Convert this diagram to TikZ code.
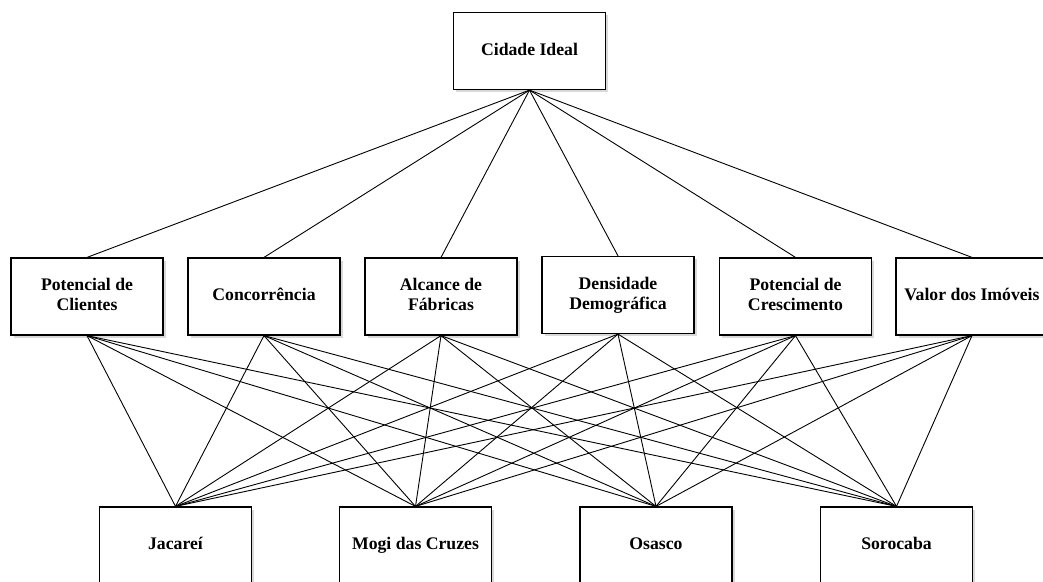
\documentclass[tikz,border=0pt]{standalone}
\usepackage{fontspec}
\setmainfont{Liberation Serif}
\usetikzlibrary{shadows}
\tikzset{
  box/.style={draw=black, line width=1.2pt, fill=white, minimum width=152pt, minimum height=77pt,
    align=center, inner sep=2pt, font=\bfseries\fontsize{17.7}{20}\selectfont,
    drop shadow={shadow xshift=2.5pt, shadow yshift=-2.5pt, opacity=0.25, fill=black!60}},
  link/.style={draw=black, line width=0.9pt}
}
\begin{document}
\begin{tikzpicture}[x=1pt, y=-1pt]
\useasboundingbox (0,0) rectangle (1043,581);
\clip (0,0) rectangle (1043,581);
\node[box] (top) at (529.5,51) {\strut Cidade Ideal};
\node[box] (m1) at (87,296.5) {\strut Potencial de\\\strut Clientes};
\node[box] (m2) at (264,296.5) {\strut Concorrência};
\node[box] (m3) at (441,296.5) {\strut Alcance de\\\strut Fábricas};
\node[box] (m4) at (618,295) {\strut Densidade\\\strut Demográfica};
\node[box] (m5) at (795.5,296.5) {\strut Potencial de\\\strut Crescimento};
\node[box] (m6) at (972,296.5) {\strut Valor dos Imóveis};
\node[box] (b1) at (175.5,545.5) {\strut Jacareí};
\node[box] (b2) at (415.5,545.5) {\strut Mogi das Cruzes};
\node[box] (b3) at (656,545.5) {\strut Osasco};
\node[box] (b4) at (896.5,545.5) {\strut Sorocaba};
\foreach \m in {m1,m2,m3,m4,m5,m6}{
  \draw[link] (top.south) -- (\m.north);
  \foreach \b in {b1,b2,b3,b4}{
    \draw[link] (\m.south) -- (\b.north);
  }
}
\end{tikzpicture}
\end{document}
